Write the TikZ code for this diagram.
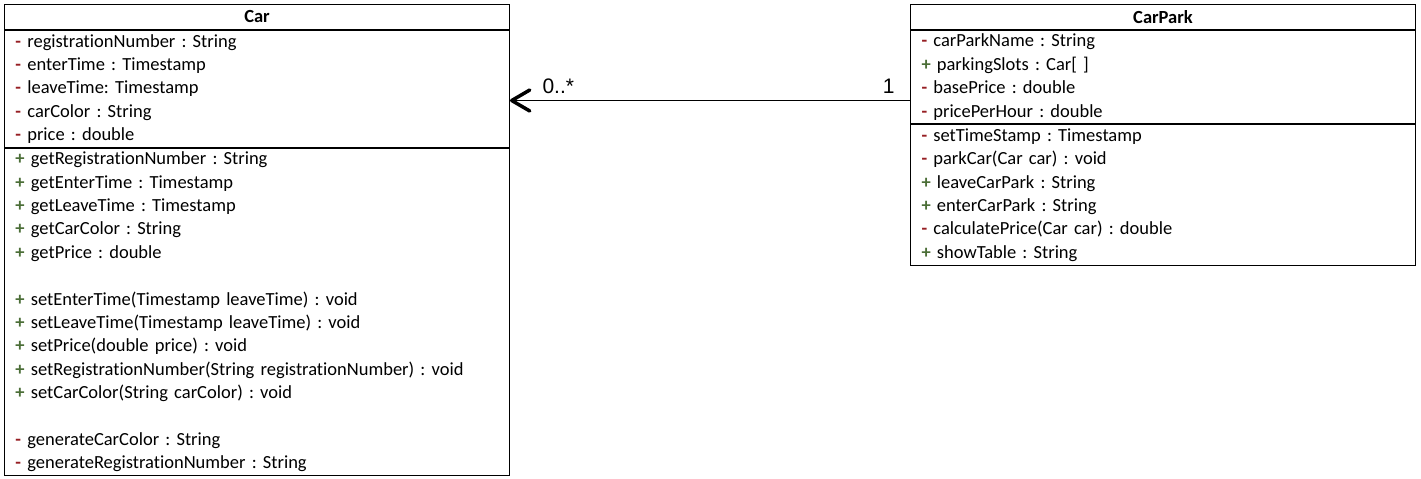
\documentclass[tikz,border=0pt]{standalone}
\usepackage{fontspec}
\setmainfont{Carlito}[Ligatures={NoCommon}]
\newfontfamily\arialfont{Liberation Sans}
\usepackage{tikz}
\usetikzlibrary{
	arrows.meta,
	positioning
}
\frenchspacing
\definecolor{privred}{RGB}{150,30,35}
\definecolor{pubgreen}{RGB}{75,110,55}
\newcommand{\prv}{\textcolor{privred}{\textbf{-}}\ }
\newcommand{\pub}{\textcolor{pubgreen}{\textbf{+}}\ }
\tikzset{
%Define standard arrow tip
>={Straight Barb[length=18pt,width=21pt,line width=3.5pt,round]},
%Define style for class titles
tittel/.style={
	rectangle,
	draw=black, line width=1pt,
	minimum width=505pt,
	minimum height=25pt,
	inner sep=0pt,
	font=\fontsize{18.5}{23.4}\selectfont\bfseries,
	text centered},
%Define style for compartments
felt/.style={
	rectangle,
	draw=black, line width=1pt,
	minimum width=505pt,
	text width=483pt,
	inner xsep=11pt, inner ysep=0pt,
	font=\fontsize{18.5}{23.4}\selectfont,
	align=left},
% Define arrow style
pil/.style={
	->,
	line width=1pt},
% Define multiplicity labels
mult/.style={
	inner sep=0pt,
	font=\arialfont\fontsize{21}{24}\selectfont}
}
\begin{document}
\begin{tikzpicture}[x=1pt,y=1pt]
				\useasboundingbox[fill=white] (0,0) rectangle (1421,-479);
				% Car class
				\node[tittel, anchor=north west] (car) at (4,-4) {Car};
				\node[felt, minimum height=117pt, below=0pt of car] (carattr) {\prv registrationNumber : String\\
					\prv enterTime : Timestamp\\
					\prv leaveTime: Timestamp\\
					\prv carColor : String\\
					\prv price : double};
				\node[felt, minimum height=327pt, below=0pt of carattr] (carmeth) {\pub getRegistrationNumber : String\\
					\pub getEnterTime : Timestamp\\
					\pub getLeaveTime : Timestamp\\
					\pub getCarColor : String\\
					\pub getPrice : double\\
					\mbox{}\\
					\pub setEnterTime(Timestamp leaveTime) : void\\
					\pub setLeaveTime(Timestamp leaveTime) : void\\
					\pub setPrice(double price) : void\\
					\pub setRegistrationNumber(String registrationNumber) : void\\
					\pub setCarColor(String carColor) : void\\
					\mbox{}\\
					\prv generateCarColor : String\\
					\prv generateRegistrationNumber : String};
				% CarPark class
				\node[tittel, anchor=north west] (park) at (910,-4) {CarPark};
				\node[felt, minimum height=93pt, below=0pt of park] (parkattr) {\prv carParkName : String\\
					\pub parkingSlots : Car[ ]\\
					\prv basePrice : double\\
					\prv pricePerHour : double};
				\node[felt, minimum height=141pt, below=0pt of parkattr] (parkmeth) {\prv setTimeStamp : Timestamp\\
					\prv parkCar(Car car) : void\\
					\pub leaveCarPark : String\\
					\pub enterCarPark : String\\
					\prv calculatePrice(Car car) : double\\
					\pub showTable : String};
				% association
				\draw[pil] ([yshift=-23.5pt]parkattr.west) -- ([yshift=-23.5pt]parkattr.west -| carattr.east)
					node[mult, pos=0, anchor=base east, shift={(-15pt,7pt)}] {1}
					node[mult, pos=1, anchor=base west, shift={(32pt,7pt)}] {0..*};
			\end{tikzpicture}
\end{document}
